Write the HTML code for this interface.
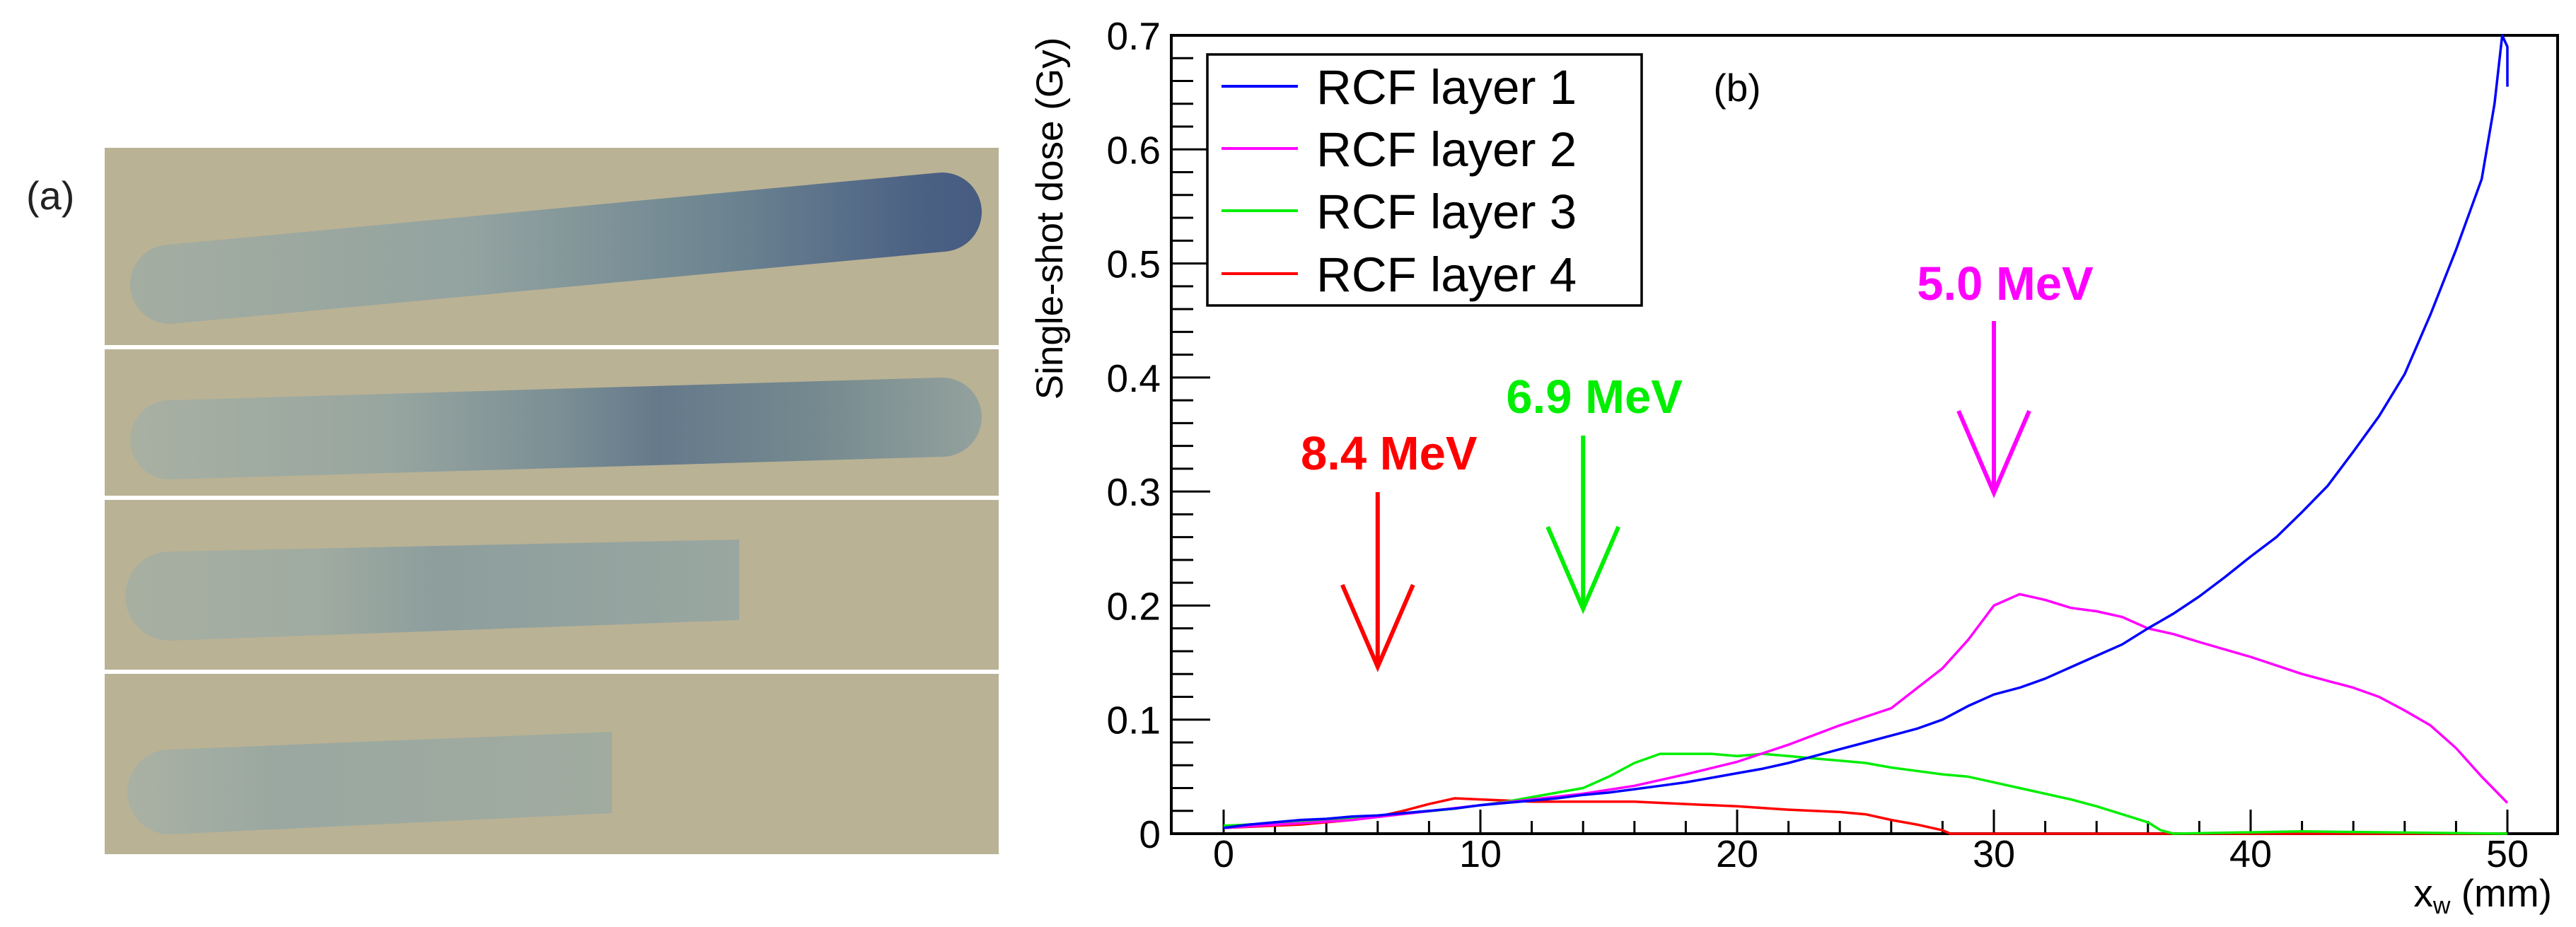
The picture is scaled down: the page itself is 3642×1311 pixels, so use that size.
<!DOCTYPE html>
<html><head><meta charset="utf-8"><style>
html,body{margin:0;padding:0;background:#fff;}
svg{display:block;font-family:"Liberation Sans",sans-serif;}
</style></head><body>
<svg id="fig" width="3642" height="1311" viewBox="0 0 3642 1311" xmlns="http://www.w3.org/2000/svg">
<defs>
<linearGradient id="g1" gradientUnits="userSpaceOnUse" x1="185" y1="0" x2="1390" y2="0">
<stop offset="0" stop-color="#a4ada1"/><stop offset="0.4" stop-color="#93a3a0"/><stop offset="0.7" stop-color="#6c8491"/><stop offset="0.92" stop-color="#4c6284"/><stop offset="1" stop-color="#465b80"/></linearGradient>
<linearGradient id="g2" gradientUnits="userSpaceOnUse" x1="185" y1="0" x2="1390" y2="0">
<stop offset="0" stop-color="#a8b0a2"/><stop offset="0.3" stop-color="#98a6a0"/><stop offset="0.5" stop-color="#7b8f95"/><stop offset="0.62" stop-color="#65798b"/><stop offset="0.8" stop-color="#74898f"/><stop offset="1" stop-color="#94a29d"/></linearGradient>
<linearGradient id="g3" gradientUnits="userSpaceOnUse" x1="185" y1="0" x2="1050" y2="0">
<stop offset="0" stop-color="#a7afa1"/><stop offset="0.3" stop-color="#a0aba1"/><stop offset="0.5" stop-color="#8d9e9d"/><stop offset="1" stop-color="#9aa7a0"/></linearGradient>
<linearGradient id="g4" gradientUnits="userSpaceOnUse" x1="185" y1="0" x2="870" y2="0">
<stop offset="0" stop-color="#a9b1a3"/><stop offset="0.3" stop-color="#9aa8a1"/><stop offset="1" stop-color="#a1ab9f"/></linearGradient>
</defs>
<g>
<text x="37" y="296" font-size="56" fill="#222">(a)</text>
<rect x="148" y="209" width="1264" height="999" fill="#bab295"/>
<line x1="240" y1="402" x2="1332" y2="300" stroke="url(#g1)" stroke-width="112" stroke-linecap="round"/>
<line x1="240" y1="622" x2="1332" y2="590" stroke="url(#g2)" stroke-width="112" stroke-linecap="round"/>
<path d="M240,780 L1045,763 L1045,877 L240,906 A63,63 0 0 1 240,780 Z" fill="url(#g3)"/>
<path d="M240,1060 L865,1035 L865,1150 L240,1180 A60,60 0 0 1 240,1060 Z" fill="url(#g4)"/>
<rect x="148" y="488" width="1264" height="6" fill="#fff"/>
<rect x="148" y="701" width="1264" height="6" fill="#fff"/>
<rect x="148" y="947" width="1264" height="6" fill="#fff"/>
</g>
<g id="chart"></g>
</svg>
<script>
const xTicks=[0,10,20,30,40,50];
const yTicks=[0,0.1,0.2,0.3,0.4,0.5,0.6,0.7];
const yTickLabels=["0","0.1","0.2","0.3","0.4","0.5","0.6","0.7"];
const seriesNames=["RCF layer 1","RCF layer 2","RCF layer 3","RCF layer 4"];
const l1x=[0,1,2,3,4,5,6,7,8,9,10,11,12,13,14,15,16,17,18,19,20,21,22,23,24,25,26,27,28,29,30,31,32,33,34,35,36,37,38,39,40,41,42,43,44,45,46,47,48,49,49.5,49.8,50,50];
const l1y=[0.005,0.008,0.01,0.012,0.013,0.015,0.016,0.018,0.02,0.022,0.025,0.027,0.029,0.031,0.034,0.036,0.039,0.042,0.045,0.049,0.053,0.057,0.062,0.068,0.074,0.08,0.086,0.092,0.1,0.112,0.122,0.128,0.136,0.146,0.156,0.166,0.18,0.193,0.208,0.225,0.243,0.26,0.282,0.305,0.335,0.366,0.403,0.455,0.512,0.574,0.64,0.70,0.69,0.655];
const l2x=[0,5,10,12,14,16,18,20,22,24,26,28,29,30,31,32,33,34,35,36,37,38,40,42,44,45,46,47,48,49,50];
const l2y=[0.005,0.012,0.025,0.03,0.035,0.042,0.052,0.063,0.078,0.095,0.11,0.145,0.17,0.2,0.21,0.205,0.198,0.195,0.19,0.18,0.175,0.168,0.155,0.14,0.128,0.12,0.108,0.095,0.075,0.05,0.027];
const l3x=[0,3,6,9,11,12,13,14,15,16,17,18,19,20,21,22,23,24,25,26,27,28,29,30,31,32,33,34,35,36,36.5,37,42,50];
const l3y=[0.007,0.01,0.015,0.022,0.028,0.032,0.036,0.04,0.05,0.062,0.07,0.07,0.07,0.068,0.07,0.068,0.066,0.064,0.062,0.058,0.055,0.052,0.05,0.045,0.04,0.035,0.03,0.024,0.017,0.01,0.003,0,0.002,0];
const l4x=[0,3,5,6,7,8,9,10,12,14,16,18,20,22,24,25,26,27,28,28.3,50];
const l4y=[0.005,0.008,0.012,0.015,0.02,0.026,0.031,0.03,0.028,0.028,0.028,0.026,0.024,0.021,0.019,0.017,0.012,0.008,0.003,0,0];
const arrowLabels=["8.4 MeV","6.9 MeV","5.0 MeV"];
const arrowX=[6,14,30];
const arrowColors=["#ff0000","#00ee00","#ff00ff"];
const X0=1730,X1=3545,Y0=1179,Y1=50;
function sx(v){return X0+(v-0)/(50-0)*(X1-X0);}
function sy(v){return Y0+(v-0)/(0.7-0)*(Y1-Y0);}
const NS="http://www.w3.org/2000/svg";
const chart=document.getElementById('chart');
function mk(tag,attrs,parent){const e=document.createElementNS(NS,tag);for(const k in attrs)e.setAttribute(k,attrs[k]);(parent||chart).appendChild(e);return e;}
const FL=1656,FR=3616;
let fr=mk('rect',{x:FL,y:Y1,width:FR-FL,height:Y0-Y1,fill:'none',stroke:'#000','stroke-width':4});


for(let i=0;i<=35;i++){const v=i*0.02;const maj=(i%5===0);
 let t=mk('line',{x1:FL,x2:FL+(maj?55:31),y1:sy(v),y2:sy(v),stroke:'#000','stroke-width':3});
 
 }
yTicks.forEach((v,i)=>{let t=mk('text',{x:1641,y:sy(v)+20,'text-anchor':'end','font-size':55,fill:'#000'});t.textContent=yTickLabels[i];
 
 });
for(let i=0;i<=25;i++){const v=i*2;const maj=(v%10===0);
 let t=mk('line',{x1:sx(v),x2:sx(v),y1:Y0,y2:Y0-(maj?34:18),stroke:'#000','stroke-width':3});
 
 }
xTicks.forEach(v=>{let t=mk('text',{x:sx(v),y:1226,'text-anchor':'middle','font-size':54,fill:'#000'});t.textContent=String(v);
 
 });
let yt=mk('text',{x:0,y:0,transform:'translate(1502,309) rotate(-90)','text-anchor':'middle','font-size':53,fill:'#000'});yt.textContent='Single-shot dose (Gy)';


let xt=mk('text',{x:3608,y:1282,'text-anchor':'end','font-size':55,fill:'#000'});
xt.innerHTML='x<tspan font-size="34" dy="10">w</tspan><tspan dy="-10"> (mm)</tspan>';


let pb=mk('text',{x:2456,y:143,'text-anchor':'middle','font-size':55,fill:'#000'});pb.textContent='(b)';


const seriesX=[l1x,l2x,l3x,l4x],seriesY=[l1y,l2y,l3y,l4y];
const colors=["#0000ff","#ff00ff","#00ee00","#ff0000"];
const drawOrder=[3,2,1,0];
drawOrder.forEach(s=>{let d='';seriesX[s].forEach((x,i)=>{d+=(i?'L':'M')+sx(x).toFixed(1)+','+sy(seriesY[s][i]).toFixed(1);});
 let p=mk('path',{d:d,fill:'none',stroke:colors[s],'stroke-width':3.5,'stroke-linejoin':'round'});
 
 });
const labelY=[664,584,424],shaftTop=[696,616,454],shaftBot=[943,861,697];
arrowX.forEach((v,i)=>{const x=sx(v),c=arrowColors[i];
 let g=mk('g',{});
 
 
 mk('line',{x1:x,x2:x,y1:shaftTop[i],y2:shaftBot[i],stroke:c,'stroke-width':6},g);
 mk('polyline',{points:`${x-50},${shaftBot[i]-116} ${x},${shaftBot[i]} ${x+50},${shaftBot[i]-116}`,fill:'none',stroke:c,'stroke-width':6},g);
 let t=mk('text',{x:x+16,y:labelY[i],'text-anchor':'middle','font-size':67,'font-weight':'bold',fill:c},g);t.textContent=arrowLabels[i];
 
 });
let lg=mk('g',{});


mk('rect',{x:1707,y:77,width:614,height:355,fill:'#fff',stroke:'#000','stroke-width':3.5},lg);
const legY=[122,210,298,387];
seriesNames.forEach((n,i)=>{let e=mk('g',{},lg);
 
 
 mk('line',{x1:1727,x2:1835,y1:legY[i],y2:legY[i],stroke:colors[i],'stroke-width':4},e);
 let t=mk('text',{x:1861,y:legY[i]+25,'font-size':69,fill:'#000'},e);t.textContent=n;});
</script>
</body></html>
